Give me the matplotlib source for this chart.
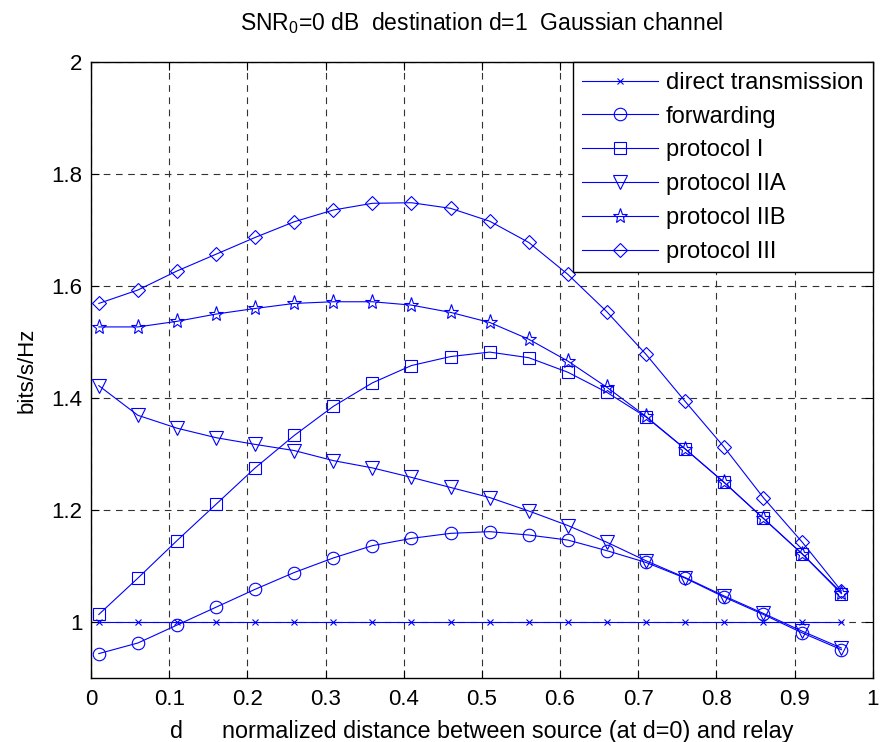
import numpy as np
import matplotlib
matplotlib.use("Agg")
import matplotlib.pyplot as plt

plt.rcParams['font.family'] = ['Liberation Sans', 'DejaVu Sans']

d = [0.01, 0.06, 0.11, 0.16, 0.21, 0.26, 0.31, 0.36, 0.41, 0.46,
     0.51, 0.56, 0.61, 0.66, 0.71, 0.76, 0.81, 0.86, 0.91, 0.96]

direct = [1.0] * 20
forwarding = [0.943, 0.962, 0.994, 1.026, 1.058, 1.088, 1.114, 1.136, 1.149, 1.158,
              1.161, 1.155, 1.146, 1.127, 1.106, 1.078, 1.044, 1.013, 0.980, 0.950]
protocol_I = [1.013, 1.078, 1.145, 1.210, 1.275, 1.333, 1.385, 1.427, 1.458, 1.474,
              1.482, 1.472, 1.446, 1.410, 1.366, 1.309, 1.249, 1.185, 1.121, 1.050]
protocol_IIA = [1.422, 1.369, 1.346, 1.329, 1.317, 1.306, 1.288, 1.275, 1.258, 1.240,
                1.222, 1.198, 1.172, 1.142, 1.109, 1.079, 1.046, 1.015, 0.983, 0.953]
protocol_IIB = [1.527, 1.527, 1.537, 1.550, 1.560, 1.569, 1.572, 1.572, 1.566, 1.553,
                1.535, 1.505, 1.466, 1.419, 1.367, 1.309, 1.249, 1.185, 1.121, 1.052]
protocol_III = [1.569, 1.593, 1.627, 1.657, 1.687, 1.715, 1.736, 1.748, 1.749, 1.739,
                1.716, 1.678, 1.621, 1.554, 1.478, 1.394, 1.312, 1.222, 1.142, 1.055]

labels = ["direct transmission", "forwarding", "protocol I",
          "protocol IIA", "protocol IIB", "protocol III"]
series = [direct, forwarding, protocol_I, protocol_IIA, protocol_IIB, protocol_III]
markers = ['x', 'o', 's', 'v', '*', 'D']
msizes = [5, 9, 9, 10, 11, 7.5]

fig = plt.figure(figsize=(8.8, 7.42), dpi=100)
ax = fig.add_axes([0.1034, 0.0867, 0.8883, 0.8293])

for y, lab, m, ms in zip(series, labels, markers, msizes):
    ax.plot(d, y, color='#0000ff', lw=0.8, marker=m, ms=ms,
            markerfacecolor='none', markeredgecolor='#0000ff', mew=0.8, label=lab)

ax.set_xlim(0, 1)
ax.set_ylim(0.9, 2)
ax.set_xticks(np.arange(0, 1.01, 0.1))
ax.set_xticklabels(['0', '0.1', '0.2', '0.3', '0.4', '0.5', '0.6', '0.7', '0.8', '0.9', '1'])
ax.set_yticks([1, 1.2, 1.4, 1.6, 1.8, 2])
ax.set_yticklabels(['1', '1.2', '1.4', '1.6', '1.8', '2'])
ax.grid(True, color='#333333', linestyle=(0, (6, 5)), lw=0.8)
ax.tick_params(direction='in', top=True, right=True, length=5.5, labelsize=16)
ax.tick_params(axis='x', pad=8)
ax.tick_params(axis='y', pad=6)
for s in ax.spines.values():
    s.set_linewidth(1.0)

ax.set_title('SNR$_{\\mathregular{0}}$=0 dB  destination d=1  Gaussian channel', fontsize=16.5, pad=23)
ax.set_xlabel('d      normalized distance between source (at d=0) and relay', fontsize=16.8, labelpad=7)
ax.set_ylabel('bits/s/Hz', fontsize=16, labelpad=10)

leg = ax.legend(loc='upper right', fontsize=17, fancybox=False, framealpha=1,
                edgecolor='black', borderaxespad=0, handlelength=3.2, labelspacing=0.5,
                borderpad=0.4, handletextpad=0.35)
leg.get_frame().set_linewidth(1.0)

fig.savefig('out.png', dpi=100)
